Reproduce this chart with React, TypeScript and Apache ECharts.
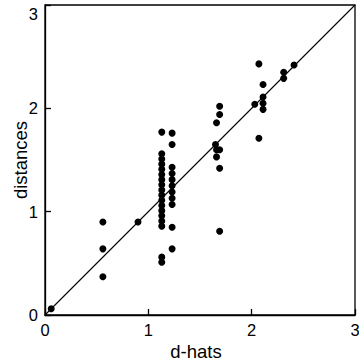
import React, { useEffect, useRef } from "react";
import * as echarts from "echarts";

const xTicks = [0, 1, 2, 3];
const xName = "d-hats";
const yName = "distances";

// scatter points [d-hat, distance]
const dHats = [
  0.06, 0.56, 0.56, 0.56, 0.9,
  1.13, 1.13, 1.13, 1.13, 1.13, 1.13, 1.13, 1.13, 1.13, 1.13, 1.13, 1.13, 1.13, 1.13, 1.13, 1.13, 1.13, 1.13,
  1.23, 1.23, 1.23, 1.23, 1.23, 1.23, 1.23, 1.23, 1.23, 1.23, 1.23,
  1.69, 1.69, 1.66, 1.65, 1.69, 1.66, 1.66, 1.69, 1.69,
  2.07, 2.11, 2.11, 2.11, 2.11, 2.03, 2.07,
  2.31, 2.31, 2.41,
];
const distances = [
  0.06, 0.9, 0.64, 0.37, 0.9,
  1.77, 1.56, 1.51, 1.46, 1.41, 1.36, 1.31, 1.26, 1.21, 1.16, 1.11, 1.06, 1.01, 0.96, 0.91, 0.86, 0.56, 0.51,
  1.76, 1.65, 1.43, 1.37, 1.31, 1.25, 1.19, 1.13, 1.07, 0.85, 0.64,
  2.02, 1.94, 1.86, 1.65, 1.6, 1.6, 1.53, 1.42, 0.81,
  2.43, 2.23, 2.11, 2.05, 1.99, 2.04, 1.71,
  2.35, 2.29, 2.42,
];
const diagonal = [
  [0, 0],
  [3, 3],
];

export default function App() {
  const ref = useRef<HTMLDivElement>(null);
  useEffect(() => {
    if (!ref.current) return;
    const chart = echarts.init(ref.current, undefined, { renderer: "svg" });
    const font = "'Liberation Sans', Arial, Helvetica, sans-serif";
    const axisCommon = {
      min: 0,
      max: 3,
      interval: 1,
      axisLine: { show: true, lineStyle: { color: "#000", width: 1.3 } },
      axisTick: { show: true, inside: true, length: 6, lineStyle: { color: "#000", width: 1.3 } },
      splitLine: { show: false },
      axisLabel: { color: "#000", fontSize: 16.5, fontFamily: font },
      nameLocation: "middle" as const,
      nameMoveOverlap: false,
    };
    chart.setOption({
      animation: false,
      backgroundColor: "#fff",
      grid: {
        left: 45,
        top: 5,
        right: 4,
        bottom: 46,
        outerBoundsMode: "none",
        containLabel: false,
        show: true,
        borderColor: "#000",
        borderWidth: 1.3,
        backgroundColor: "transparent",
      },
      xAxis: {
        type: "value",
        ...axisCommon,
        name: xName,
        nameGap: 27,
        nameTextStyle: {
          color: "#000",
          fontSize: 18.5,
          lineHeight: 18,
          fontFamily: font,
          padding: [0, 8, 0, 0],
        },
        axisLabel: {
          ...axisCommon.axisLabel,
          margin: 6,
          formatter: (v: number) => (xTicks.includes(v) ? String(v) : ""),
        },
      },
      yAxis: {
        type: "value",
        ...axisCommon,
        name: yName,
        nameGap: 16,
        nameTextStyle: { color: "#000", fontSize: 18.5, lineHeight: 18, fontFamily: font },
        axisLabel: { ...axisCommon.axisLabel, margin: 7, verticalAlignMaxLabel: "top" },
      },
      series: [
        {
          type: "line",
          data: diagonal,
          showSymbol: false,
          symbol: "none",
          lineStyle: { color: "#000", width: 1.1 },
          silent: true,
          z: 1,
        },
        {
          type: "scatter",
          data: dHats.map((x, i) => [x, distances[i]]),
          symbol: "circle",
          symbolSize: 7,
          itemStyle: { color: "#000", opacity: 1 },
          z: 2,
        },
      ],
    });
    return () => chart.dispose();
  }, []);
  return <div ref={ref} style={{ width: 359, height: 361, position: "absolute", left: 0, top: 0 }} />;
}
